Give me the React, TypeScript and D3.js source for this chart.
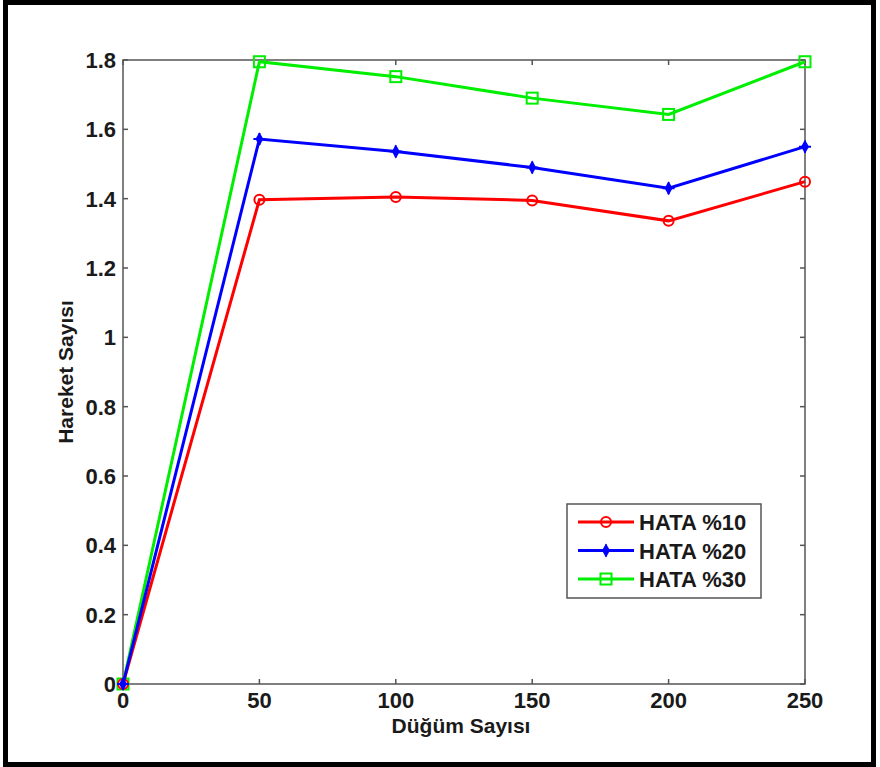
import * as d3 from 'd3';
import React, { useRef, useEffect } from 'react';

const nodes = [0, 50, 100, 150, 200, 250];
const hata10 = [0, 1.397, 1.405, 1.395, 1.336, 1.449];
const hata20 = [0, 1.572, 1.536, 1.49, 1.43, 1.55];
const hata30 = [0, 1.795, 1.752, 1.69, 1.643, 1.795];
const seriesNames = ['HATA %10', 'HATA %20', 'HATA %30'];
const yTicks = [0, 0.2, 0.4, 0.6, 0.8, 1, 1.2, 1.4, 1.6, 1.8];

const W = 880;
const H = 767;
const FONT = 'Arial, "Liberation Sans", Helvetica, sans-serif';

function Chart() {
    const ref = useRef<SVGSVGElement>(null);

    useEffect(() => {
        const svg = d3.select(ref.current);
        svg.selectAll('*').remove();

        const left = 123, right = 805, top = 60, bottom = 684;
        const x = d3.scaleLinear().domain([0, 250]).range([left, right]);
        const y = d3.scaleLinear().domain([0, 1.8]).range([bottom, top]);

        svg.append('rect').attr('width', W).attr('height', H).attr('fill', '#fff');
        // outer frame
        svg.append('rect')
            .attr('x', 5.5).attr('y', 2.5)
            .attr('width', 868).attr('height', 762)
            .attr('fill', 'none').attr('stroke', '#000').attr('stroke-width', 5);

        const axisColor = '#555';
        const textColor = '#1a1a1a';
        const tl = 5;
        const g = svg.append('g');

        g.append('rect')
            .attr('x', left).attr('y', top)
            .attr('width', right - left).attr('height', bottom - top)
            .attr('fill', 'none').attr('stroke', axisColor).attr('stroke-width', 1.5);

        nodes.forEach(v => {
            g.append('line').attr('x1', x(v)).attr('x2', x(v)).attr('y1', bottom).attr('y2', bottom - tl)
                .attr('stroke', axisColor).attr('stroke-width', 1.5);
            g.append('line').attr('x1', x(v)).attr('x2', x(v)).attr('y1', top).attr('y2', top + tl)
                .attr('stroke', axisColor).attr('stroke-width', 1.5);
            g.append('text').attr('x', x(v)).attr('y', bottom + 24)
                .attr('text-anchor', 'middle').attr('font-family', FONT).attr('font-weight', 'bold')
                .attr('font-size', 22).attr('fill', textColor).text(String(v));
        });

        yTicks.forEach(v => {
            g.append('line').attr('x1', left).attr('x2', left + tl).attr('y1', y(v)).attr('y2', y(v))
                .attr('stroke', axisColor).attr('stroke-width', 1.5);
            g.append('line').attr('x1', right).attr('x2', right - tl).attr('y1', y(v)).attr('y2', y(v))
                .attr('stroke', axisColor).attr('stroke-width', 1.5);
            g.append('text').attr('x', left - 7).attr('y', y(v) + 8)
                .attr('text-anchor', 'end').attr('font-family', FONT).attr('font-weight', 'bold')
                .attr('font-size', 22).attr('fill', textColor).text(String(v));
        });

        g.append('text').attr('x', 461).attr('y', 733)
            .attr('text-anchor', 'middle').attr('font-family', FONT).attr('font-weight', 'bold')
            .attr('font-size', 21).attr('fill', textColor).text('Düğüm Sayısı');
        g.append('text').attr('transform', `translate(73,${(top + bottom) / 2}) rotate(-90)`)
            .attr('text-anchor', 'middle').attr('font-family', FONT).attr('font-weight', 'bold')
            .attr('font-size', 21).attr('fill', textColor).text('Hareket Sayısı');

        const colors = ['#ff0000', '#0000ff', '#00ee00'];
        const allSeries = [hata10, hata20, hata30];
        const line = d3.line<number>().x((_, i) => x(nodes[i])).y(d => y(d));

        const marker = (sel: any, k: number, cx: number, cy: number) => {
            if (k === 0) {
                sel.append('circle').attr('cx', cx).attr('cy', cy).attr('r', 5)
                    .attr('fill', 'none').attr('stroke', colors[k]).attr('stroke-width', 2);
            } else if (k === 1) {
                sel.append('path').attr('d', d3.symbol(d3.symbolDiamond, 55)())
                    .attr('transform', `translate(${cx},${cy})`).attr('fill', colors[k]);
                sel.append('path').attr('d', `M${cx - 6},${cy}H${cx + 6}M${cx},${cy - 6}V${cy + 6}`)
                    .attr('stroke', colors[k]).attr('stroke-width', 2);
            } else {
                sel.append('rect').attr('x', cx - 5.5).attr('y', cy - 5.5).attr('width', 11).attr('height', 11)
                    .attr('fill', 'none').attr('stroke', colors[k]).attr('stroke-width', 2);
            }
        };

        [2, 0, 1].forEach(k => {
            g.append('path').datum(allSeries[k]).attr('d', line)
                .attr('fill', 'none').attr('stroke', colors[k]).attr('stroke-width', 3);
            allSeries[k].forEach((v, i) => marker(g, k, x(nodes[i]), y(v)));
        });

        // legend
        const lx = 567, ly = 504;
        g.append('rect').attr('x', lx).attr('y', ly).attr('width', 194).attr('height', 94)
            .attr('fill', '#fff').attr('stroke', axisColor).attr('stroke-width', 1.5);
        seriesNames.forEach((name, k) => {
            const yy = ly + 18 + k * 28.5;
            g.append('line').attr('x1', lx + 11).attr('x2', lx + 67).attr('y1', yy).attr('y2', yy)
                .attr('stroke', colors[k]).attr('stroke-width', 3);
            marker(g, k, lx + 39, yy);
            g.append('text').attr('x', lx + 72).attr('y', yy + 8)
                .attr('font-family', FONT).attr('font-weight', 'bold')
                .attr('font-size', 22).attr('fill', textColor).text(name);
        });
    }, []);

    return (
        <svg ref={ref} width={W} height={H} style={{ position: 'absolute', left: 0, top: 0 }} />
    );
}

export default function App() {
    return <Chart />;
}
